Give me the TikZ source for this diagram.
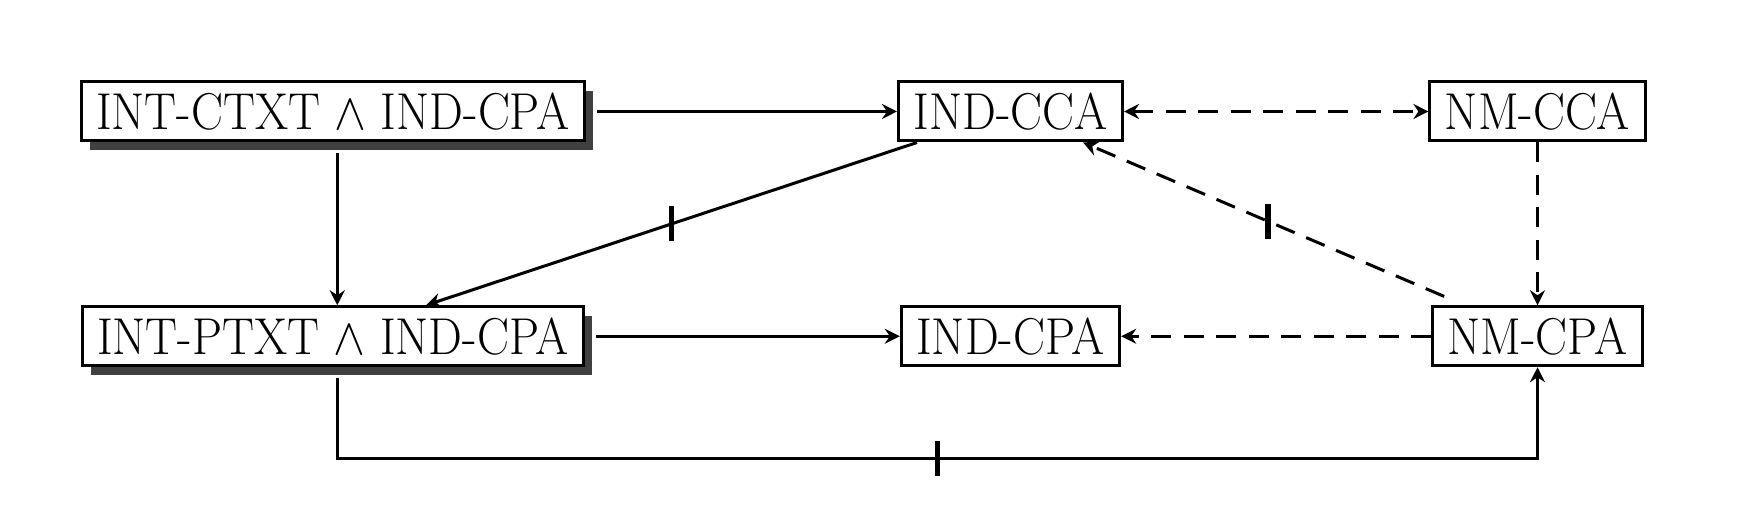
\documentclass[tikz,border=0pt]{standalone}
\usetikzlibrary{arrows.meta,shadows}
\newcommand{\nt}[1]{\scalebox{0.922}[1]{#1}}
\begin{document}
\begin{tikzpicture}[x=1pt,y=1pt,
  box/.style={draw, line width=1.2pt, fill=white, font=\huge, inner xsep=6pt, inner ysep=0pt,
    minimum height=23.6pt, text height=14.3pt, text depth=0pt},
  shbox/.style={box, drop shadow={shadow xshift=3.6pt, shadow yshift=-3.6pt, fill=black!75, opacity=1}},
  conn/.style={line width=1.2pt, -{Stealth[length=6pt,width=6pt,inset=2pt]}},
  dconn/.style={conn, dash pattern=on 8pt off 5pt},
  tickmark/.style={fill=black, inner sep=0pt, minimum width=2.3pt, minimum height=14pt, sloped=false}
]
\useasboundingbox (0,0) rectangle (701.6,-202.4);
\node[shbox] (ctxt) at (133.1,-44.6) {\nt{INT-CTXT $\wedge$ IND-CPA}};
\node[box] (indcca) at (404.2,-44.6) {\nt{IND-CCA}};
\node[box] (nmcca) at (615,-44.6) {\nt{NM-CCA}};
\node[shbox] (ptxt) at (133.1,-134.5) {\nt{INT-PTXT $\wedge$ IND-CPA}};
\node[box] (indcpa) at (404.2,-134.5) {\nt{IND-CPA}};
\node[box] (nmcpa) at (615,-134.5) {\nt{NM-CPA}};
\coordinate (bot) at (0,-183.4);

\draw[conn, shorten <=4.4pt] (ctxt) -- (indcca);
\draw[conn, shorten <=4.4pt] ([xshift=1.8pt]ctxt.south) -- ([xshift=1.8pt]ptxt.north);
\draw[conn, shorten <=4.4pt] (ptxt) -- (indcpa);
\draw[conn] (indcca) -- node[tickmark]{} (ptxt);
\draw[dconn, {Stealth[length=6pt,width=6pt,inset=2pt]}-{Stealth[length=6pt,width=6pt,inset=2pt]}] (indcca) -- (nmcca);
\draw[dconn] (nmcca) -- (nmcpa);
\draw[dconn] (nmcpa) -- (indcpa);
\draw[dconn, shorten <=9pt] (nmcpa) -- node[tickmark, pos=0.515]{} (indcca);
\draw[conn, shorten <=4.4pt] ([xshift=1.8pt]ptxt.south) -- ([xshift=1.8pt]ptxt.south |- bot)
  -- node[tickmark]{} (nmcpa.south |- bot) -- (nmcpa.south);
\end{tikzpicture}
\end{document}
